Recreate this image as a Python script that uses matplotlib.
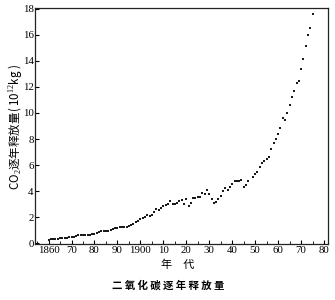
import matplotlib
matplotlib.use("Agg")
import matplotlib.pyplot as plt
from matplotlib.ticker import MultipleLocator

years = list(range(1860, 1948)) + list(range(1949, 1976))
values = [
    0.28, 0.30, 0.32, 0.34, 0.36, 0.38, 0.40, 0.42, 0.44, 0.48,   # 1860-69
    0.47, 0.46, 0.58, 0.62, 0.63, 0.64, 0.64, 0.64, 0.62, 0.68,   # 1870-79
    0.74, 0.80, 0.88, 0.97, 0.95, 0.93, 0.96, 1.02, 1.10, 1.16,   # 1880-89
    1.20, 1.24, 1.26, 1.27, 1.28, 1.32, 1.38, 1.52, 1.62, 1.75,   # 1890-99
    1.88, 1.96, 2.05, 2.14, 2.12, 2.20, 2.38, 2.66, 2.54, 2.70,   # 1900-09
    2.88, 2.94, 3.00, 3.26, 3.00, 2.98, 3.10, 3.26, 3.30, 3.00,   # 1910-19
    3.38, 2.90, 3.13, 3.50, 3.46, 3.52, 3.56, 3.84, 3.82, 4.12,   # 1920-29
    3.82, 3.38, 3.08, 3.20, 3.38, 3.64, 4.02, 4.27, 4.07, 4.33,   # 1930-39
    4.58, 4.78, 4.80, 4.78, 4.83, 4.33, 4.45, 4.80,               # 1940-47
    5.08, 5.34, 5.49, 5.82, 6.18, 6.30, 6.50, 6.66, 7.27, 7.73,   # 1949-58
    8.03, 8.39, 8.85, 9.58, 9.46, 9.96, 10.60, 11.26, 11.72, 12.33,  # 1959-68
    12.48, 13.35, 14.16, 15.15, 15.99, 16.52, 17.57,              # 1969-75
]
x_ticks = [1860, 1870, 1880, 1890, 1900, 1910, 1920, 1930, 1940, 1950, 1960, 1970, 1980]
x_tick_labels = ["1860", "70", "80", "90", "1900", "10", "20", "30", "40", "50", "60", "70", "80"]
y_ticks = [0, 2, 4, 6, 8, 10, 12, 14, 16, 18]

ylabel = "CO$_2$逐年释放量( 10$^{12}$kg )"
xlabel = "年\u3000代"
caption = "二 氧 化 碳 逐 年 释 放 量"

serif = ["Liberation Serif", "Noto Sans CJK SC"]
cjk = ["Noto Sans CJK SC", "DejaVu Sans"]
plt.rcParams["mathtext.fontset"] = "custom"
plt.rcParams["mathtext.rm"] = "Liberation Serif"

fig = plt.figure(figsize=(3.35, 3.0), dpi=100)
ax = fig.add_axes([35/335, 1 - 244/300, (327.5 - 35)/335, (244 - 8)/300])

ax.plot(years, values, linestyle="none", marker="s", markersize=1.6,
        color="#1a1a1a", markeredgewidth=0)

ax.set_xlim(1854.1, 1981.5)
ax.set_ylim(-0.05, 18.05)
ax.set_xticks(x_ticks)
ax.set_xticklabels(x_tick_labels, family=serif, fontsize=7.8)
ax.xaxis.set_minor_locator(MultipleLocator(5))
ax.set_yticks(y_ticks)
ax.set_yticklabels([str(v) for v in y_ticks], family=serif, fontsize=7.8)

ax.tick_params(axis="both", which="major", direction="in", length=3, width=0.8, pad=1.5)
ax.tick_params(axis="x", which="minor", direction="in", length=2, width=0.6)
ax.tick_params(axis="y", pad=1)

for s in ax.spines.values():
    s.set_linewidth(0.9)
    s.set_color("#222222")

fig.text(15/335, 1 - 127/300, ylabel, rotation=90, ha="center", va="center",
         family=["Noto Sans CJK SC", "Liberation Serif"], fontsize=8.3)
fig.text(178/335, 1 - 265/300, xlabel, ha="center", va="center",
         family=cjk, fontsize=8)
fig.text(168/335, 1 - 285/300, caption, ha="center", va="center",
         family=cjk, fontsize=7.5, fontweight="bold")

fig.savefig("out.png", dpi=100)
